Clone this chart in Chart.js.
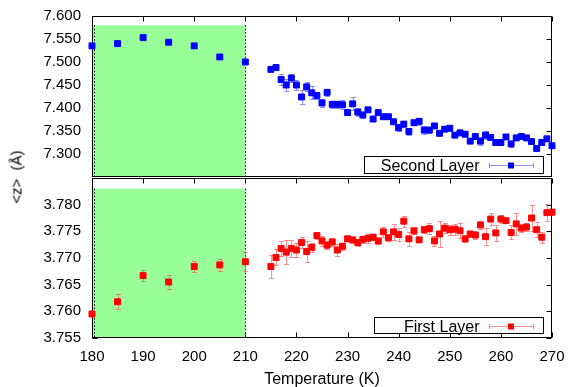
<!DOCTYPE html>
<html>
<head>
<meta charset="utf-8">
<script src="https://cdn.jsdelivr.net/npm/chart.js@4"></script>
<style>
  html, body { margin: 0; padding: 0; background: #fff; }
  #wrap { position: relative; width: 569px; height: 387px; overflow: hidden; }
  #topChart { position: absolute; left: 0; top: 0; }
  #bottomChart { position: absolute; left: 0; top: 168px; }
  #yTitle {
    position: absolute; left: 16px; top: 177px;
    transform: translate(-50%, -50%) rotate(-90deg);
    font: 15px 'Liberation Sans', Arial, sans-serif; color: #000; white-space: nowrap;
  }
</style>
</head>
<body>
<div id="wrap">
  <canvas id="topChart" width="569" height="178"></canvas>
  <canvas id="bottomChart" width="569" height="221"></canvas>
  <div id="yTitle">&lt;z&gt;&nbsp; (Å)</div>
</div>
<script>
const FONT = "'Liberation Sans', Arial, sans-serif";

// Temperature (K)
const temps = [180, 185, 190, 195, 200, 205, 210,
  215, 216, 217, 218, 219, 220, 221, 222, 223, 224, 225, 226, 227, 228, 229,
  230, 231, 232, 233, 234, 235, 236, 237, 238, 239, 240, 241, 242, 243, 244,
  245, 246, 247, 248, 249, 250, 251, 252, 253, 254, 255, 256, 257, 258, 259,
  260, 261, 262, 263, 264, 265, 266, 267, 268, 269, 270];

// <z> second layer and its error
const secondLayer = [7.535, 7.540, 7.553, 7.543, 7.535, 7.511, 7.500,
  7.484, 7.488, 7.462, 7.450, 7.465, 7.450, 7.424, 7.446, 7.433, 7.427, 7.411,
  7.434, 7.408, 7.408, 7.407, 7.390, 7.409, 7.391, 7.385, 7.396, 7.376, 7.390,
  7.381, 7.381, 7.370, 7.357, 7.365, 7.349, 7.368, 7.371, 7.352, 7.352, 7.361,
  7.345, 7.354, 7.356, 7.341, 7.346, 7.343, 7.328, 7.338, 7.328, 7.341, 7.336,
  7.325, 7.325, 7.337, 7.322, 7.335, 7.338, 7.335, 7.327, 7.312, 7.325, 7.333, 7.318];
const secondErr = [0.002, 0.002, 0.002, 0.002, 0.005, 0.002, 0.002,
  0.003, 0.004, 0.011, 0.013, 0.009, 0.010, 0.015, 0.010, 0.014, 0.008, 0.009,
  0.007, 0.008, 0.008, 0.010, 0.005, 0.014, 0.008, 0.006, 0.005, 0.004, 0.004,
  0.006, 0.004, 0.003, 0.008, 0.007, 0.007, 0.005, 0.008, 0.008, 0.006, 0.004,
  0.004, 0.004, 0.005, 0.004, 0.003, 0.004, 0.003, 0.004, 0.008, 0.009, 0.004,
  0.004, 0.003, 0.004, 0.007, 0.004, 0.004, 0.004, 0.004, 0.003, 0.003, 0.004, 0.004];

// <z> first layer and its error
const firstLayer = [3.7595, 3.7618, 3.7667, 3.7655, 3.7684, 3.7687, 3.7693,
  3.7684, 3.7701, 3.7718, 3.7711, 3.7718, 3.7715, 3.7729, 3.7712, 3.7720, 3.7742,
  3.7732, 3.7724, 3.7730, 3.7715, 3.7722, 3.7736, 3.7734, 3.7729, 3.7735, 3.7737,
  3.7739, 3.7732, 3.7749, 3.7738, 3.7749, 3.7744, 3.7769, 3.7736, 3.7751, 3.7734,
  3.7753, 3.7755, 3.7732, 3.7745, 3.7756, 3.7753, 3.7754, 3.7751, 3.7736, 3.7745,
  3.7743, 3.7762, 3.7740, 3.7773, 3.7747, 3.7773, 3.7770, 3.7748, 3.7764, 3.7756,
  3.7758, 3.7775, 3.7753, 3.7739, 3.7785, 3.7786];
const firstErr = [0.0003, 0.0014, 0.0010, 0.0014, 0.0010, 0.0011, 0.0018,
  0.0022, 0.0015, 0.0014, 0.0022, 0.0016, 0.0014, 0.0011, 0.0019, 0.0008, 0.0006,
  0.0009, 0.0008, 0.0008, 0.0011, 0.0007, 0.0005, 0.0005, 0.0007, 0.0007, 0.0008,
  0.0006, 0.0006, 0.0009, 0.0006, 0.0015, 0.0012, 0.0010, 0.0013, 0.0006, 0.0004,
  0.0007, 0.0010, 0.0010, 0.0025, 0.0010, 0.0009, 0.0010, 0.0014, 0.0006, 0.0006,
  0.0008, 0.0008, 0.0016, 0.0012, 0.0015, 0.0008, 0.0005, 0.0013, 0.0020, 0.0008,
  0.0008, 0.0024, 0.0014, 0.0010, 0.0016, 0.0006];

const xTickValues = [180, 190, 200, 210, 220, 230, 240, 250, 260, 270];
const shadeRange = [180, 210];
const markerLines = [180.3, 210];

// gnuplot-like frame, inward ticks, shaded region and error bars
const panelDecor = {
  id: 'panelDecor',
  beforeDatasetsDraw(chart, args, opts) {
    const { ctx, chartArea: a, scales: { x, y } } = chart;
    const L = Math.round(a.left) + 0.5, R = Math.round(a.right) - 0.5;
    const T = Math.round(a.top) + 0.5, B = Math.round(a.bottom) - 0.5;
    ctx.save();
    ctx.strokeStyle = '#000';
    ctx.lineWidth = 1;
    ctx.beginPath();
    y.ticks.forEach(t => {
      if (t.label === '') return;
      const py = Math.round(y.getPixelForValue(t.value)) + 0.5;
      ctx.moveTo(L, py); ctx.lineTo(L + 5, py);
      ctx.moveTo(R, py); ctx.lineTo(R - 5, py);
    });
    xTickValues.forEach(v => {
      const px = Math.round(x.getPixelForValue(v)) + 0.5;
      ctx.moveTo(px, T); ctx.lineTo(px, T + 5);
      if (opts.bottomTicks) { ctx.moveTo(px, B); ctx.lineTo(px, B - 5); }
    });
    ctx.stroke();

    // shaded region
    const x0 = x.getPixelForValue(shadeRange[0]);
    const x1 = x.getPixelForValue(shadeRange[1]);
    const yt = y.getPixelForValue(opts.shadeTop);
    ctx.fillStyle = '#99ff99';
    ctx.fillRect(x0, yt, x1 - x0, a.bottom - yt);

    ctx.setLineDash([1.5, 2]);
    ctx.beginPath();
    markerLines.forEach(v => {
      const px = Math.round(x.getPixelForValue(v)) + 0.5;
      ctx.moveTo(px, yt); ctx.lineTo(px, a.bottom);
    });
    ctx.stroke();
    ctx.setLineDash([]);

    // frame
    ctx.strokeRect(L, T, R - L, B - T);

    // error bars
    chart.data.datasets.forEach(ds => {
      ctx.strokeStyle = ds.errorColor;
      ctx.beginPath();
      ds.data.forEach((p, i) => {
        const e = ds.errors[i];
        const px = Math.round(x.getPixelForValue(p.x)) + 0.5;
        const lo = Math.round(y.getPixelForValue(p.y - e)) + 0.5;
        const hi = Math.round(y.getPixelForValue(p.y + e)) + 0.5;
        ctx.moveTo(px, lo); ctx.lineTo(px, hi);
        ctx.moveTo(px - 2.5, lo); ctx.lineTo(px + 2.5, lo);
        ctx.moveTo(px - 2.5, hi); ctx.lineTo(px + 2.5, hi);
      });
      ctx.stroke();
    });
    ctx.restore();
  },
  afterDatasetsDraw(chart, args, opts) {
    const { ctx, chartArea: a } = chart;
    const k = opts.key;
    const ds = chart.data.datasets[0];
    const bx = Math.round(a.right - k.right - k.width) + 0.5;
    const by = Math.round(a.bottom - k.bottom - k.height) + 0.5;
    const cy = Math.round(by + k.height / 2) + 0.5;
    const end = bx + k.width;
    ctx.save();
    ctx.fillStyle = '#fff';
    ctx.fillRect(bx, by, k.width, k.height);
    ctx.strokeStyle = '#000';
    ctx.lineWidth = 1;
    ctx.strokeRect(bx, by, k.width, k.height);
    ctx.fillStyle = '#000';
    ctx.font = '16px ' + FONT;
    ctx.textAlign = 'right';
    ctx.textBaseline = 'middle';
    ctx.fillText(ds.label, end - 64, cy + 1);
    // sample: horizontal error bar with a square
    ctx.strokeStyle = ds.errorColor;
    ctx.beginPath();
    ctx.moveTo(end - 54, cy); ctx.lineTo(end - 10, cy);
    ctx.moveTo(end - 54, cy - 2.5); ctx.lineTo(end - 54, cy + 2.5);
    ctx.moveTo(end - 10, cy - 2.5); ctx.lineTo(end - 10, cy + 2.5);
    ctx.stroke();
    ctx.fillStyle = ds.backgroundColor;
    ctx.fillRect(end - 35.5, cy - 3, 6, 6);
    ctx.restore();
  }
};

function layerDataset(label, values, errors, color, errColor) {
  return {
    label: label,
    data: temps.map((t, i) => ({ x: t, y: values[i] })),
    errors: errors,
    errorColor: errColor,
    backgroundColor: color,
    borderColor: color,
    pointStyle: 'rect',
    pointRadius: 4.2,
    pointBorderWidth: 1,
    showLine: false,
    clip: false
  };
}

function yScale(min, max, step, hidden) {
  return {
    min: min,
    max: max,
    afterFit(scale) {
      scale.width = 92;
      scale.paddingTop = 0;
      scale.paddingBottom = 0;
    },
    grid: { display: false, drawTicks: false },
    border: { display: false },
    ticks: {
      stepSize: step,
      padding: 11,
      color: '#000',
      font: { size: 15, family: FONT },
      callback: v => Math.abs(v - hidden) < step / 10 ? '' : v.toFixed(3)
    }
  };
}

new Chart(document.getElementById('topChart'), {
  type: 'scatter',
  data: {
    datasets: [layerDataset('Second Layer', secondLayer, secondErr, '#0000ff', 'rgba(70,70,255,0.6)')]
  },
  options: {
    responsive: false,
    animation: false,
    layout: { autoPadding: false, padding: { top: 16, right: 17, bottom: 1, left: 0 } },
    plugins: {
      legend: { display: false },
      tooltip: { enabled: false },
      panelDecor: {
        shadeTop: 7.58,
        bottomTicks: false,
        key: { right: 9, bottom: 4, width: 179, height: 17 }
      }
    },
    scales: {
      x: { type: 'linear', min: 180, max: 270, display: false },
      y: yScale(7.25, 7.6, 0.05, 7.25)
    }
  },
  plugins: [panelDecor]
});

new Chart(document.getElementById('bottomChart'), {
  type: 'scatter',
  data: {
    datasets: [layerDataset('First Layer', firstLayer, firstErr, '#ff0000', 'rgba(255,70,70,0.6)')]
  },
  options: {
    responsive: false,
    animation: false,
    layout: { autoPadding: false, padding: { top: 10, right: 17, bottom: 0, left: 0 } },
    plugins: {
      legend: { display: false },
      tooltip: { enabled: false },
      panelDecor: {
        shadeTop: 3.783,
        bottomTicks: true,
        key: { right: 9, bottom: 5, width: 169, height: 16 }
      }
    },
    scales: {
      x: {
        type: 'linear',
        min: 180,
        max: 270,
        afterFit(scale) {
          scale.height = 51;
          scale.paddingLeft = 0;
          scale.paddingRight = 0;
        },
        grid: { display: false, drawTicks: false },
        border: { display: false },
        ticks: {
          stepSize: 10,
          padding: 10,
          maxRotation: 0,
          color: '#000',
          font: { size: 15, family: FONT }
        },
        title: {
          display: true,
          text: 'Temperature (K)',
          color: '#000',
          font: { size: 16, family: FONT },
          padding: { top: 0, bottom: 0 }
        }
      },
      y: yScale(3.755, 3.785, 0.005, 3.785)
    }
  },
  plugins: [panelDecor]
});
</script>
</body>
</html>
